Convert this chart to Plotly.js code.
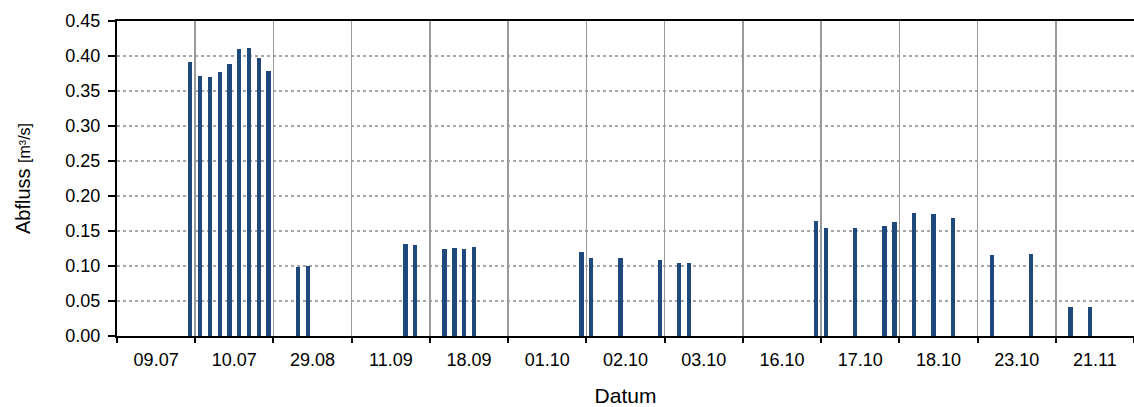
<!DOCTYPE html>
<html>
<head>
<meta charset="utf-8">
<script src="https://cdn.plot.ly/plotly-3.0.1.min.js"></script>
<style>
  html, body { margin: 0; padding: 0; background: #fff; }
  #chart { width: 1134px; height: 407px; }
</style>
</head>
<body>
<div id="chart"></div>
<script>
// Measurement days (category labels on the x axis)
const dayLabels = ['09.07', '10.07', '29.08', '11.09', '18.09', '01.10', '02.10',
                   '03.10', '16.10', '17.10', '18.10', '23.10', '21.11'];

// Each discharge measurement: its day, its 3-hour slot within the day (0..7), and the value in m³/s
const barDays = ['09.07',
  '10.07', '10.07', '10.07', '10.07', '10.07', '10.07', '10.07', '10.07',
  '29.08', '29.08',
  '11.09', '11.09',
  '18.09', '18.09', '18.09', '18.09',
  '01.10',
  '02.10', '02.10', '02.10',
  '03.10', '03.10',
  '16.10',
  '17.10', '17.10', '17.10', '17.10',
  '18.10', '18.10', '18.10',
  '23.10', '23.10',
  '21.11', '21.11'];
const barSlots = [7,
  0, 1, 2, 3, 4, 5, 6, 7,
  2, 3,
  5, 6,
  1, 2, 3, 4,
  7,
  0, 3, 7,
  1, 2,
  7,
  0, 3, 6, 7,
  1, 3, 5,
  1, 5,
  1, 3];
const barValues = [0.392,
  0.372, 0.370, 0.377, 0.388, 0.410, 0.411, 0.397, 0.379,
  0.098, 0.100,
  0.131, 0.130,
  0.124, 0.126, 0.124, 0.127,
  0.120,
  0.112, 0.112, 0.108,
  0.104, 0.105,
  0.165,
  0.154, 0.155, 0.157, 0.163,
  0.176, 0.175, 0.168,
  0.116, 0.117,
  0.041, 0.041];

const SLOTS_PER_DAY = 8;
const barX = barDays.map((d, i) => dayLabels.indexOf(d) + (barSlots[i] + 0.5) / SLOTS_PER_DAY);

const dayCenters = dayLabels.map((_, i) => i + 0.5);
const dayBounds = dayLabels.map((_, i) => i).concat([dayLabels.length]);

const FONT = 'Liberation Sans, Arial, sans-serif';

const trace = {
  type: 'bar',
  x: barX,
  y: barValues,
  width: 0.055,
  marker: { color: '#1f497d', line: { width: 0 } },
  xaxis: 'x',
  yaxis: 'y',
  hoverinfo: 'y'
};

// invisible helper trace so the day-boundary axis is drawn
const boundTrace = {
  type: 'scatter',
  x: [0, dayLabels.length],
  y: [0, 0],
  mode: 'markers',
  marker: { opacity: 0 },
  xaxis: 'x2',
  yaxis: 'y',
  hoverinfo: 'skip',
  showlegend: false
};

const layout = {
  width: 1134,
  height: 407,
  margin: { l: 117, r: 0, t: 21, b: 71 },
  paper_bgcolor: '#ffffff',
  plot_bgcolor: '#ffffff',
  showlegend: false,
  bargap: 0,
  font: { family: FONT, size: 18, color: '#000' },
  xaxis: {
    range: [0, dayLabels.length],
    tickmode: 'array',
    tickvals: dayCenters,
    ticktext: dayLabels,
    ticks: 'outside',
    ticklen: 6,
    tickcolor: 'rgba(0,0,0,0)',
    showgrid: false,
    zeroline: false,
    showline: true,
    linecolor: '#000',
    linewidth: 2,
    mirror: true,
    tickfont: { family: FONT, size: 18, color: '#000' },
    title: { text: 'Datum', font: { family: FONT, size: 21, color: '#000' }, standoff: 21 }
  },
  xaxis2: {
    overlaying: 'x',
    side: 'bottom',
    range: [0, dayLabels.length],
    tickmode: 'array',
    tickvals: dayBounds,
    ticks: 'outside',
    ticklen: 6,
    tickwidth: 2,
    tickcolor: '#000',
    showticklabels: false,
    showgrid: true,
    gridcolor: '#9a9a9a',
    gridwidth: 1.5,
    zeroline: false,
    showline: false
  },
  yaxis: {
    range: [0, 0.45],
    tick0: 0,
    dtick: 0.05,
    tickformat: '.2f',
    ticks: 'outside',
    ticklen: 7,
    tickwidth: 1.5,
    tickcolor: '#000',
    ticklabelstandoff: 4,
    showgrid: true,
    gridcolor: '#a6a6a6',
    gridwidth: 1.5,
    griddash: 'dot',
    zeroline: false,
    showline: true,
    linecolor: '#000',
    linewidth: 2,
    tickfont: { family: FONT, size: 18, color: '#000' },
    title: {
      text: 'Abfluss <span style="font-size:16px">[m³/s]</span>',
      font: { family: FONT, size: 20, color: '#000' },
      standoff: 29
    }
  }
};

Plotly.newPlot('chart', [trace, boundTrace], layout, { displayModeBar: false, staticPlot: true });
</script>
</body>
</html>
